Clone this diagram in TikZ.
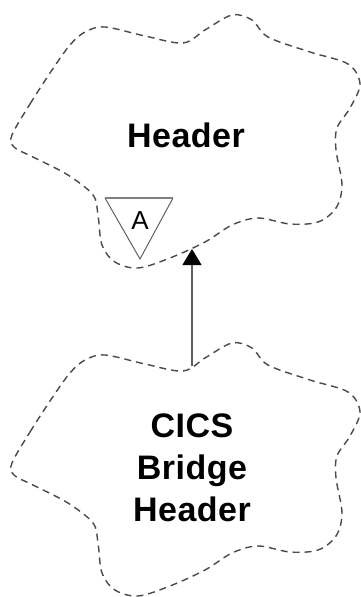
\documentclass[tikz,border=0pt]{standalone}
\usepackage{fontspec}
\setmainfont{Liberation Sans}
\usetikzlibrary{arrows.meta}
\definecolor{blobGray}{HTML}{4A4A4A}
\definecolor{lineGray}{HTML}{606060}

\begin{document}
\begin{tikzpicture}[x=1pt, y=-1pt,
  cloudline/.style={draw=blobGray, line width=1.4pt, dash pattern=on 7pt off 5pt},
  cloudtext/.style={font=\fontsize{34}{42}\selectfont\bfseries\addfontfeature{LetterSpace=1.5},
               align=center, inner sep=0pt},
  tri/.style={draw=lineGray, line width=1pt, line join=miter},
  arr/.style={-{Triangle[length=16pt,width=19pt,color=black]}, lineGray, line width=1.2pt},
  blob/.pic={
    \draw[cloudline] plot[smooth cycle, tension=0.55] coordinates {
      (12,135) (30,104) (52,70) (70,45) (85,32) (105,27) (145,36) (183,43)
      (205,30) (232,15) (252,20) (268,37) (310,52) (348,64) (360,84) (350,108)
      (337,128) (336,150) (342,185) (336,208) (318,222) (290,224) (258,218)
      (232,225) (205,242) (170,258) (138,268) (115,262) (102,245) (98,215)
      (93,195) (68,175) (35,158) (14,147)};
  }
]
\useasboundingbox (0,0) rectangle (361,597);
% the two clouds
\pic at (0,0)   {blob};
\pic at (0,328) {blob};
% texts
\node[cloudtext, anchor=base] (hdr) at (186,147) {Header};
\node[cloudtext] (cbh) at (192,468) {CICS\\Bridge\\Header};
% abstract mark
\draw[tri] (105,198) -- (140,259) -- (173,198);
\draw[lineGray!80, line width=2pt] (105,198) -- (173,198);
\node[font=\fontsize{26}{26}\selectfont, inner sep=0pt] (abs) at (140,221) {A};
% inheritance
\coordinate (tail) at (192,366);
\coordinate (head) at (192,249);
\draw[arr] (tail) -- (head);
\end{tikzpicture}
\end{document}
